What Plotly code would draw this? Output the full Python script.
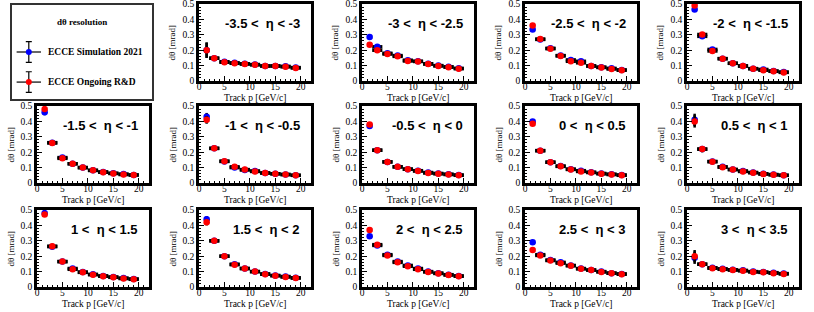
import plotly.graph_objects as go

# ---------------- data ----------------
track_p = [1.5, 3, 5, 7, 9, 11, 13, 15, 17, 19]
track_p_err = [0.5, 1, 1, 1, 1, 1, 1, 1, 1, 1]

eta_bins = ["-3.5 <  η < -3", "-3 <  η < -2.5", "-2.5 <  η < -2", "-2 <  η < -1.5",
            "-1.5 <  η < -1", "-1 <  η < -0.5", "-0.5 <  η < 0", "0 <  η < 0.5",
            "0.5 <  η < 1", "1 <  η < 1.5", "1.5 <  η < 2", "2 <  η < 2.5",
            "2.5 <  η < 3", "3 <  η < 3.5"]

sim_2021 = [
    [0.200, 0.148, 0.125, 0.118, 0.112, 0.107, 0.098, 0.098, 0.095, 0.087],
    [0.285, 0.222, 0.180, 0.165, 0.135, 0.128, 0.112, 0.100, 0.092, 0.082],
    [0.335, 0.270, 0.212, 0.165, 0.137, 0.128, 0.098, 0.090, 0.082, 0.072],
    [0.465, 0.290, 0.205, 0.145, 0.115, 0.098, 0.080, 0.075, 0.065, 0.058],
    [0.460, 0.262, 0.165, 0.125, 0.100, 0.082, 0.072, 0.063, 0.058, 0.052],
    [0.430, 0.225, 0.140, 0.100, 0.085, 0.078, 0.065, 0.060, 0.055, 0.050],
    [0.370, 0.213, 0.137, 0.105, 0.090, 0.080, 0.068, 0.062, 0.057, 0.052],
    [0.400, 0.210, 0.135, 0.110, 0.090, 0.080, 0.070, 0.062, 0.057, 0.052],
    [0.410, 0.220, 0.140, 0.105, 0.088, 0.078, 0.068, 0.060, 0.055, 0.050],
    [0.480, 0.262, 0.165, 0.120, 0.097, 0.082, 0.072, 0.065, 0.058, 0.052],
    [0.440, 0.300, 0.200, 0.148, 0.120, 0.100, 0.085, 0.075, 0.068, 0.060],
    [0.330, 0.270, 0.210, 0.165, 0.140, 0.120, 0.100, 0.090, 0.080, 0.072],
    [0.290, 0.210, 0.175, 0.160, 0.140, 0.120, 0.110, 0.100, 0.090, 0.085],
    [0.190, 0.148, 0.125, 0.118, 0.112, 0.108, 0.100, 0.097, 0.093, 0.087],
]

ongoing_rd = [
    [0.200, 0.148, 0.122, 0.115, 0.110, 0.105, 0.097, 0.097, 0.092, 0.085],
    [0.235, 0.200, 0.175, 0.160, 0.130, 0.127, 0.110, 0.098, 0.090, 0.080],
    [0.360, 0.272, 0.210, 0.163, 0.128, 0.118, 0.097, 0.088, 0.078, 0.070],
    [0.490, 0.302, 0.195, 0.145, 0.115, 0.097, 0.080, 0.070, 0.063, 0.056],
    [0.480, 0.260, 0.160, 0.125, 0.100, 0.082, 0.070, 0.062, 0.055, 0.052],
    [0.410, 0.225, 0.142, 0.105, 0.087, 0.075, 0.065, 0.060, 0.055, 0.050],
    [0.380, 0.213, 0.137, 0.105, 0.090, 0.078, 0.065, 0.060, 0.055, 0.050],
    [0.385, 0.210, 0.135, 0.108, 0.088, 0.075, 0.068, 0.060, 0.055, 0.050],
    [0.400, 0.220, 0.138, 0.103, 0.087, 0.075, 0.067, 0.058, 0.053, 0.050],
    [0.470, 0.265, 0.165, 0.115, 0.095, 0.080, 0.070, 0.063, 0.055, 0.050],
    [0.420, 0.300, 0.200, 0.145, 0.120, 0.100, 0.083, 0.073, 0.065, 0.058],
    [0.370, 0.275, 0.205, 0.160, 0.135, 0.115, 0.098, 0.088, 0.078, 0.070],
    [0.240, 0.205, 0.172, 0.155, 0.138, 0.118, 0.110, 0.098, 0.090, 0.083],
    [0.200, 0.148, 0.122, 0.115, 0.110, 0.105, 0.098, 0.095, 0.090, 0.085],
]

res_err = [
    [0.050, 0.005, 0, 0, 0, 0, 0, 0, 0, 0],
    [0.008, 0.008, 0, 0, 0, 0, 0, 0, 0, 0],
    [0.008, 0.005, 0, 0, 0, 0, 0, 0, 0, 0],
    [0.010, 0.005, 0, 0, 0, 0, 0, 0, 0, 0],
    [0.020, 0.005, 0, 0, 0, 0, 0, 0, 0, 0],
    [0.025, 0.005, 0, 0, 0, 0, 0, 0, 0, 0],
    [0.010, 0.005, 0, 0, 0, 0, 0, 0, 0, 0],
    [0.010, 0.005, 0, 0, 0, 0, 0, 0, 0, 0],
    [0.040, 0.020, 0, 0, 0, 0, 0, 0, 0, 0],
    [0.015, 0.005, 0, 0, 0, 0, 0, 0, 0, 0],
    [0.020, 0.005, 0, 0, 0, 0, 0, 0, 0, 0],
    [0.010, 0.005, 0, 0, 0, 0, 0, 0, 0, 0],
    [0.008, 0.005, 0, 0, 0, 0, 0, 0, 0, 0],
    [0.040, 0.005, 0, 0, 0, 0, 0, 0, 0, 0],
]

x_ticks = [0, 5, 10, 15, 20]
x_ticklabels = ["0", "5", "10", "15", "20"]
y_ticks = [0, 0.1, 0.2, 0.3, 0.4, 0.5]
y_ticklabels = ["0", "0.1", "0.2", "0.3", "0.4", "0.5"]

x_title = "Track p [GeV/c]"
y_title = "dθ [mrad]"
legend_names = ["ECCE Simulation 2021", "ECCE Ongoing R&D"]
legend_title = "dθ resolution"

# ---------------- layout geometry ----------------
W, H = 814, 312
col_x0 = [37, 199, 362, 525, 687]
col_w = 112
row_y0 = [4, 106, 210]
row_h = 77

SERIF = "Liberation Serif"
SANS = "Liberation Sans"

fig = go.Figure()
layout = dict(
    width=W, height=H, margin=dict(l=0, r=0, t=0, b=0, autoexpand=False),
    paper_bgcolor="white", plot_bgcolor="white", showlegend=False,
)
annotations = []

def dom_x(x0, w):
    return [x0 / W, (x0 + w) / W]

def dom_y(y0, h):
    return [(H - y0 - h) / H, (H - y0) / H]

# legend panel (axis 1)
layout["xaxis"] = dict(domain=dom_x(12, 140), range=[0, 1], showticklabels=False,
                       ticks="", showgrid=False, zeroline=False, showline=True,
                       mirror=True, linecolor="#333", linewidth=1.5, fixedrange=True,
                       automargin=False)
layout["yaxis"] = dict(domain=dom_y(5, 94), range=[0, 1], showticklabels=False,
                       ticks="", showgrid=False, zeroline=False, showline=True,
                       mirror=True, linecolor="#333", linewidth=1.5, fixedrange=True,
                       automargin=False)
leg_y = [0.5, 0.18]
leg_col = ["blue", "red"]
for name, yy, c in zip(legend_names, leg_y, leg_col):
    fig.add_trace(go.Scatter(
        x=[0.12], y=[yy], mode="markers", xaxis="x", yaxis="y",
        marker=dict(color=c, size=6),
        error_x=dict(type="data", array=[0.087], color="black", thickness=1.2, width=0),
        error_y=dict(type="data", array=[0.11], color="black", thickness=1.2, width=3),
        hoverinfo="skip"))
    annotations.append(dict(x=0.24, y=yy, xref="x", yref="y", text="<b>%s</b>" % name,
                            showarrow=False, xanchor="left", yanchor="middle",
                            font=dict(family=SERIF, size=9.5, color="black")))
annotations.append(dict(x=0.5, y=0.82, xref="x", yref="y", text="<b>%s</b>" % legend_title,
                        showarrow=False, xanchor="center", yanchor="middle",
                        font=dict(family=SERIF, size=9, color="black")))

# data panels
for k in range(14):
    idx = k + 1  # panel position (0 is legend)
    r, c = divmod(idx, 5)
    n = k + 2
    xa = "xaxis%d" % n
    ya = "yaxis%d" % n
    common = dict(showgrid=False, zeroline=False, showline=True, mirror=True,
                  linecolor="black", linewidth=2.5, ticks="inside", ticklen=5,
                  tickwidth=1, tickcolor="black", automargin=False,
                  ticklabeloverflow="allow",
                  tickfont=dict(family=SERIF, size=9.5, color="black"), fixedrange=True)
    layout[xa] = dict(common, domain=dom_x(col_x0[c], col_w), range=[0, 22],
                      tickvals=x_ticks, ticktext=x_ticklabels, anchor="y%d" % n,
                      ticklabelstandoff=-5,
                      minor=dict(ticks="inside", dtick=1, ticklen=2.5, tickcolor="black"))
    layout[ya] = dict(common, domain=dom_y(row_y0[r], row_h), range=[0, 0.5],
                      tickvals=y_ticks, ticktext=y_ticklabels, anchor="x%d" % n,
                      minor=dict(ticks="inside", dtick=0.02, ticklen=2.5, tickcolor="black"))
    for vals, col in ((sim_2021[k], "blue"), (ongoing_rd[k], "red")):
        fig.add_trace(go.Scatter(
            x=track_p, y=vals, mode="markers", xaxis="x%d" % n, yaxis="y%d" % n,
            marker=dict(color=col, size=6.5),
            error_x=dict(type="data", array=track_p_err, color="black", thickness=3.5, width=0),
            error_y=dict(type="data", array=res_err[k], color="black", thickness=2.5, width=0),
            hoverinfo="skip"))
    annotations.append(dict(x=20.2, y=0.375, xref="x%d" % n, yref="y%d" % n,
                            text="<b>%s</b>" % eta_bins[k], showarrow=False,
                            xanchor="right", yanchor="middle",
                            font=dict(family=SANS, size=13, color="black")))
    annotations.append(dict(x=0.5, y=0, xref="x%d domain" % n, yref="y%d domain" % n,
                            text=x_title, showarrow=False, xanchor="center", yanchor="top",
                            yshift=-10, font=dict(family=SERIF, size=9.5, color="black")))
    annotations.append(dict(x=0, y=0.5, xref="x%d domain" % n, yref="y%d domain" % n,
                            text=y_title, showarrow=False, xanchor="center", yanchor="middle",
                            textangle=-90, xshift=-27,
                            font=dict(family=SERIF, size=9, color="black")))

layout["annotations"] = annotations
fig.update_layout(**layout)
fig.write_html("out.html", config={"displayModeBar": False},
               post_script="document.body.style.margin='0px';")
